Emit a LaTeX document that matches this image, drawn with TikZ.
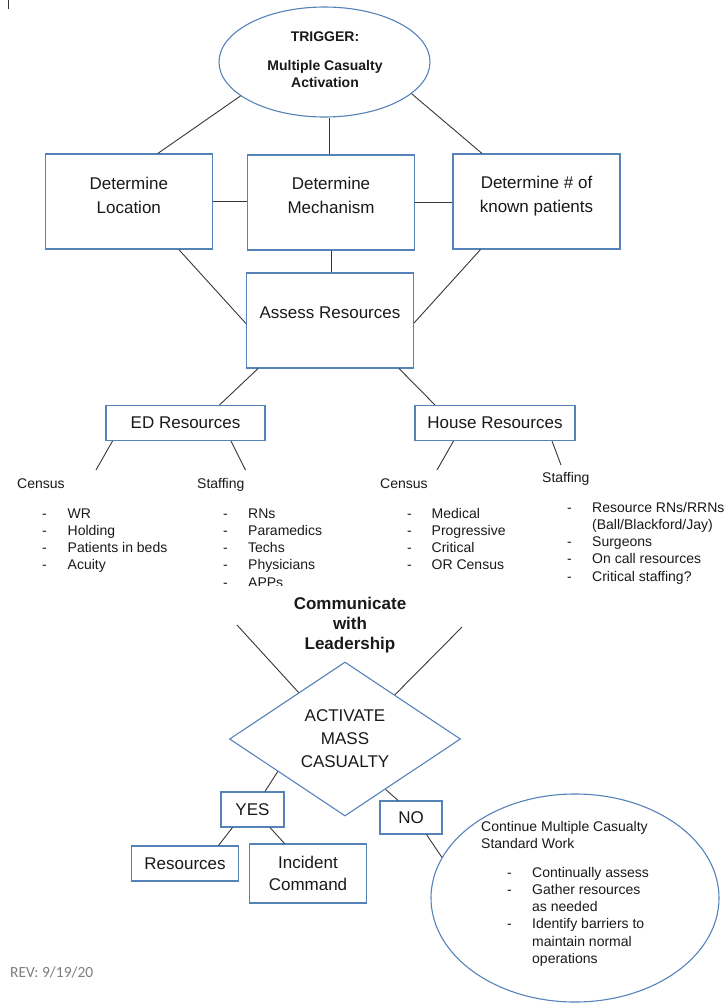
\documentclass[tikz,border=0pt]{standalone}
\usepackage{fontspec}
\setmainfont{Liberation Sans}
\newfontfamily\revfont{Carlito}
\usetikzlibrary{shapes.geometric,calc}
\definecolor{boxblue}{RGB}{84,130,185}
\definecolor{linegray}{RGB}{55,55,55}
\definecolor{txtc}{RGB}{25,25,25}
\definecolor{revgray}{RGB}{125,125,125}
\begin{document}
\begin{tikzpicture}[x=1pt,y=-1pt,
  box/.style={draw=boxblue, line width=1.1pt, rectangle, inner sep=0pt, fill=white, text=txtc, font=\fontsize{17}{22}\selectfont, align=center},
  conn/.style={draw=linegray, line width=0.9pt},
  big/.style={font=\fontsize{17}{24}\selectfont, text=txtc, align=center, inner sep=0pt},
  trigtxt/.style={font=\bfseries\fontsize{14}{16.5}\selectfont, text=txtc, align=center, inner sep=0pt},
  comm/.style={font=\bfseries\fontsize{17}{20}\selectfont, text=txtc, align=center, inner sep=0pt},
  small/.style={font=\fontsize{14}{17}\selectfont, text=txtc, inner sep=0pt, anchor=base west},
  dsh/.style={},
]
\useasboundingbox (0,0) rectangle (726,1004);

% stray tick top-left
\coordinate (tickA) at (8.5,0);
\coordinate (tickB) at (8.5,9);
\draw[conn, line width=0.8pt] (tickA) -- (tickB);

% trigger ellipse
\node[draw=boxblue, line width=1.1pt, ellipse, minimum width=211, minimum height=110, inner sep=0pt] (trig) at (324.5,62) {};
\node[trigtxt] (trigt1) at (325,37) {TRIGGER:};
\node[trigtxt] (trigt2) at (325,74) {Multiple Casualty\\Activation};

% determine boxes
\node[box, minimum width=167.5, minimum height=95] (loc) at (128.8,201.5) {};
\node[big] (loct) at (128.8,195) {Determine\\Location};
\node[box, minimum width=167, minimum height=95] (mech) at (331,202.5) {};
\node[big] (mecht) at (331,195) {Determine\\Mechanism};
\node[box, minimum width=167, minimum height=95] (pat) at (536.5,201.5) {};
\node[big] (patt) at (536.5,196) {Determine \# of\\known patients};

% assess
\node[box, minimum width=167, minimum height=95] (assess) at (330,320.5) {};
\node[big] (assesst) at (330,313) {Assess Resources};

% resources boxes
\node[box, minimum width=159, minimum height=35] (ed) at (185.5,423) {ED Resources};
\node[box, minimum width=160, minimum height=35] (house) at (495,423) {House Resources};

% list headers
\node[small] (edcen) at (17,488) {Census};
\node[small] (edsta) at (197,488) {Staffing};
\node[small] (hcen) at (380,488) {Census};
\node[small] (hsta) at (542,482) {Staffing};

% lists
\foreach \t [count=\i] in {WR,Holding,Patients in beds,Acuity}
  \node[small] (edl\i) at (42,{518+17.3*(\i-1)}) {\makebox[25.5pt][l]{-}\t};
\foreach \t [count=\i] in {RNs,Paramedics,Techs,Physicians}
  \node[small] (esl\i) at (223,{518+17.3*(\i-1)}) {\makebox[25pt][l]{-}\t};
\begin{scope}
  \clip (200,560) rectangle (360,585.5);
  \node[small] (esl5) at (223,587.2) {\makebox[25pt][l]{-}APPs};
\end{scope}
\foreach \t [count=\i] in {Medical,Progressive,Critical,OR Census}
  \node[small] (hcl\i) at (407,{518+17.3*(\i-1)}) {\makebox[24.5pt][l]{-}\t};
\node[small] (hsl1) at (567,512) {\makebox[25pt][l]{-}Resource RNs/RRNs};
\node[small] (hsl2) at (592,529.3) {(Ball/Blackford/Jay)};
\node[small] (hsl3) at (567,546.6) {\makebox[25pt][l]{-}Surgeons};
\node[small] (hsl4) at (567,563.9) {\makebox[25pt][l]{-}On call resources};
\node[small] (hsl5) at (567,581.2) {\makebox[25pt][l]{-}Critical staffing?};

% communicate
\node[comm] (comm) at (350,625.5) {Communicate\\with\\Leadership};

% diamond
\node[draw=boxblue, line width=1.1pt, diamond, minimum width=231, minimum height=154, inner sep=0pt, text=txtc, font=\fontsize{17}{23}\selectfont, align=center] (dia) at (345,739) {ACTIVATE\\MASS\\CASUALTY};

% yes / no
\node[box, minimum width=63, minimum height=35] (yes) at (252.5,809.5) {YES};
\node[box, minimum width=62, minimum height=33] (no) at (411,817.5) {NO};
\node[box, minimum width=107.5, minimum height=35] (res) at (185,863.5) {Resources};
\node[box, minimum width=116.5, minimum height=59] (inc) at (308,873.5) {Incident\\Command};

% circle
\node[draw=boxblue, line width=1.1pt, ellipse, minimum width=288, minimum height=208, inner sep=0pt] (circ) at (575,898) {};
\node[small] (ct1) at (481,831) {Continue Multiple Casualty};
\node[small] (ct2) at (481,848) {Standard Work};
\node[small] (ci1) at (507,877) {\makebox[25pt][l]{-}Continually assess};
\node[small] (ci2) at (507,894.3) {\makebox[25pt][l]{-}Gather resources};
\node[small] (ci3) at (532,911.6) {as needed};
\node[small] (ci4) at (507,928.9) {\makebox[25pt][l]{-}Identify barriers to};
\node[small] (ci5) at (532,946.2) {maintain normal};
\node[small] (ci6) at (532,963.5) {operations};

% revision
\node[anchor=base west, inner sep=0pt, text=revgray, font=\revfont\fontsize{15.5}{18}\selectfont] (rev) at (10,977) {REV: 9/19/20};

% free ends
\coordinate (edcE) at (96,470);
\coordinate (edsE) at (245.5,470);
\coordinate (hscE) at (437,470);
\coordinate (hssE) at (561,465);
\coordinate (cl) at (237,625);
\coordinate (cr) at (462,627);
\coordinate (tm) at ($(trig.south)+(4.5,0)$);

% connectors
\draw[conn] (trig.202) -- ($(loc.north)+(29,0)$);
\draw[conn] (tm) -- (tm |- mech.north);
\draw[conn] (trig.340) -- ($(pat.north)+(-54.5,0)$);
\draw[conn] (loc.east) -- (loc.east -| mech.west);
\draw[conn] (mech.east) -- (mech.east -| pat.west);
\draw[conn] ($(loc.south)+(50,0)$) -- ($(assess.west)+(0,3)$);
\draw[conn] (mech.south) -- (mech.south |- assess.north);
\draw[conn] ($(pat.south)+(-56,0)$) -- ($(assess.east)+(0,2.5)$);
\draw[conn] ($(assess.south)+(-72,0)$) -- ($(ed.north)+(34,0)$);
\draw[conn] ($(assess.south)+(69,0)$) -- ($(house.north)+(-60,0)$);
\draw[conn] ($(ed.south)+(-73,0)$) -- (edcE);
\draw[conn] ($(ed.south)+(45.5,0)$) -- (edsE);
\draw[conn] ($(house.south)+(-41.5,0)$) -- (hscE);
\draw[conn] ($(house.south)+(57,0)$) -- (hssE);
\draw[conn] (cl) -- ($(dia.west)!0.6!(dia.north)$);
\draw[conn] (cr) -- ($(dia.north)!0.43!(dia.east)$);
\draw[conn] ($(dia.west)!0.42!(dia.south)$) -- ($(yes.north)+(12.5,0)$);
\draw[conn] ($(dia.east)!0.65!(dia.south)$) -- ($(no.north)+(-13,0)$);
\draw[conn] ($(yes.south)+(-20,0)$) -- ($(res.north)+(33.5,0)$);
\draw[conn] ($(yes.south)+(17.5,0)$) -- ($(inc.north)+(-23.5,0)$);
\draw[conn] ($(no.south)+(15.5,0)$) -- (circ.163);
\end{tikzpicture}
\end{document}
